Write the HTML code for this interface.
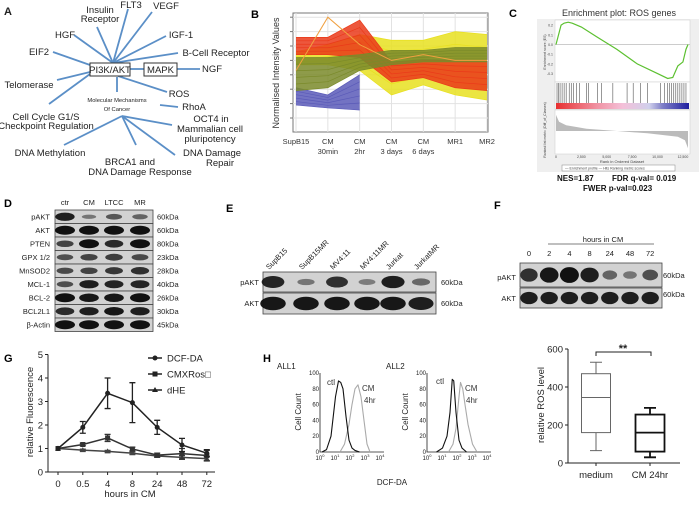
<!DOCTYPE html>
<html><head><meta charset="utf-8"><style>
html,body{margin:0;padding:0;background:#fff;}
svg{display:block;font-family:"Liberation Sans",sans-serif;}
</style></head><body>
<svg id="fig" width="700" height="510" viewBox="0 0 700 510" xmlns="http://www.w3.org/2000/svg">
<g id="panelA" font-size="9.5" fill="#222" text-anchor="middle">
<text x="4" y="15" font-size="11" font-weight="bold" text-anchor="start">A</text>
<g stroke="#5b8fc7" stroke-width="1.8">
<line x1="113" y1="63" x2="128" y2="9"/><line x1="113" y1="63" x2="97" y2="27"/><line x1="113" y1="63" x2="152" y2="12"/>
<line x1="113" y1="63" x2="74" y2="35"/><line x1="113" y1="63" x2="166" y2="36"/><line x1="113" y1="63" x2="178" y2="53"/>
<line x1="90" y1="65" x2="53" y2="52"/><line x1="90" y1="72" x2="57" y2="80"/><line x1="90" y1="74" x2="49" y2="104"/>
<line x1="130" y1="69" x2="144" y2="69"/><line x1="177" y1="69" x2="200" y2="69"/><line x1="118" y1="76" x2="167" y2="92"/>
<line x1="117" y1="77" x2="117" y2="92"/><line x1="160" y1="105" x2="178" y2="107"/>
<line x1="122" y1="116" x2="172" y2="125"/><line x1="122" y1="116" x2="64" y2="145"/><line x1="122" y1="116" x2="136" y2="145"/><line x1="122" y1="116" x2="175" y2="155"/>
</g>
<rect x="90" y="63" width="40" height="13" fill="#fff" stroke="#333"/>
<text x="110" y="73">PI3K/AKT</text>
<rect x="144" y="63" width="33" height="13" fill="#fff" stroke="#333"/>
<text x="160.5" y="73">MAPK</text>
<text x="131" y="8">FLT3</text>
<text x="100" y="13">Insulin<tspan x="100" dy="9">Receptor</tspan></text>
<text x="166" y="9">VEGF</text>
<text x="65" y="38">HGF</text>
<text x="181" y="38">IGF-1</text>
<text x="216" y="56">B-Cell Receptor</text>
<text x="39" y="55">EIF2</text>
<text x="212" y="72">NGF</text>
<text x="29" y="88">Telomerase</text>
<text x="179" y="97">ROS</text>
<text x="117" y="102" font-size="5.8">Molecular Mechanisms<tspan x="117" dy="9">Of Cancer</tspan></text>
<text x="194" y="110">RhoA</text>
<text x="46" y="120">Cell Cycle G1/S<tspan x="46" dy="9">Checkpoint Regulation</tspan></text>
<text x="211" y="122">OCT4 in<tspan x="210" dy="10">Mammalian cell</tspan><tspan x="210" dy="10">pluripotency</tspan></text>
<text x="50" y="156">DNA Methylation</text>
<text x="130" y="165">BRCA1 and<tspan x="140" dy="10">DNA Damage Response</tspan></text>
<text x="212" y="156">DNA Damage<tspan x="220" dy="10">Repair</tspan></text>
</g>
<g id="panelB"></g>
<g id="panelC"></g>
<g id="panelD"></g>
<g id="panelE"></g>
<g id="panelF"></g>
<g id="panelG"></g>
<g id="panelH"></g>
</svg>
<script>
// ---------- Panel B data ----------
var bCategories = ["SupB15","CM 30min","CM 2hr","CM 3 days","CM 6 days","MR1","MR2"];
var bYellowUpper = [4.6,5.1,5.8,5.4,5.4,6.0,5.8];
var bYellowLower = [3.7,3.7,3.3,1.6,2.3,1.6,1.25];
var bRedUpper = [5.6,5.6,6.8,3.9,4.0,4.0,4.0];
var bRedLower = [4.4,4.4,4.2,2.5,2.8,2.1,1.9];
var bGreenUpper = [4.2,4.2,4.4,4.7,4.7,4.9,4.9];
var bGreenLower = [1.9,2.1,3.3,3.7,3.9,3.9,3.9];
var bBlueUpper = [2.1,1.6,3.0];
var bBlueLower = [0.9,0.7,0.55];
var bOrange = [3.3,7.0,5.1,4.0,4.4,4.0,4.0];
// ---------- Panel C data ----------
var esRanks = [0,200,500,800,1200,1600,2500,4000,6000,8000,10000,11000,11500,12000,12500,12800,13000];
var esValues = [0,0.08,0.2,0.22,0.23,0.22,0.18,0.08,-0.05,-0.2,-0.3,-0.35,-0.34,-0.22,-0.18,-0.05,0];
var hitRanks = [100,250,400,600,800,1000,1300,1500,1700,2000,2300,3000,3200,4100,4500,5600,7000,7600,8300,9000,10300,10700,11000,11200,11400,11600,11800,12000,12200,12400,12600,12800];
var metricRanks = [0,300,1000,3000,6000,9000,12000,12700,13000];
var metricValues = [7,4,2.5,1,0,-1,-2.5,-4,-7.5];
var esTicks = [0.2,0.1,0.0,-0.1,-0.2,-0.3];
var rankTicks = [0,2500,5000,7500,10000,12500];
// ---------- Panel D data ----------
var dLanes = ["ctr","CM","LTCC","MR"];
var dProteins = ["pAKT","AKT","PTEN","GPX 1/2","MnSOD2","MCL-1","BCL-2","BCL2L1","β-Actin"];
var dSizes = ["60kDa","60kDa","80kDa","23kDa","28kDa","40kDa","26kDa","30kDa","45kDa"];
var dIntensity = [[0.9,0.2,0.45,0.35],[1,1,1,1],[0.6,1,0.8,1],[0.5,0.6,0.65,0.55],[0.55,0.6,0.7,0.75],[0.5,0.9,0.85,0.85],[1,0.95,0.95,1],[0.8,0.9,0.95,0.9],[1,1,1,1]];
// ---------- Panel E data ----------
var eLanes = ["SupB15","SupB15MR","MV4:11","MV4:11MR","Jurkat","JurkatMR"];
var ePAKT = [0.85,0.2,0.75,0.15,0.9,0.3];
var eAKT = [0.95,0.95,0.95,0.95,0.95,0.9];
// ---------- Panel F data ----------
var fLanes = ["0","2","4","8","24","48","72"];
var fPAKT = [0.75,0.95,1,0.9,0.35,0.2,0.5];
var fAKT = [0.9,0.9,0.9,0.9,0.9,0.9,0.9];
// ---------- Panel G data ----------
var gCategories = ["0","0.5","4","8","24","48","72"];
var gDCF = [1,1.9,3.35,2.95,1.9,1.15,0.8];
var gDCFerr = [0,0.25,0.65,0.85,0.3,0.28,0.15];
var gCMX = [1,1.17,1.45,0.98,0.72,0.78,0.7];
var gCMXerr = [0,0.05,0.15,0.08,0.08,0.22,0.22];
var gDHE = [1,0.93,0.88,0.8,0.68,0.62,0.57];
var gDHEerr = [0,0.04,0.04,0.05,0.05,0.08,0.1];
var gTicks = [0,1,2,3,4,5];
// ---------- Panel H data ----------
var h1BlackX = [0,0.3,0.6,0.9,1.1,1.25,1.4,1.6,1.8,2.0,2.2,2.5];
var h1BlackY = [0,3,20,70,90,88,80,45,15,5,2,0];
var h1GrayX = [1.2,1.5,1.8,2.0,2.2,2.4,2.6,2.8,3.0,3.2];
var h1GrayY = [0,10,35,60,80,85,70,40,10,0];
var h2BlackX = [0.5,0.9,1.2,1.4,1.55,1.65,1.8,2.0,2.2,2.5];
var h2BlackY = [0,5,20,50,92,90,50,15,5,0];
var h2GrayX = [1.3,1.6,1.8,2.0,2.1,2.25,2.4,2.6,2.9,3.2];
var h2GrayY = [0,10,30,70,88,80,60,35,10,0];
var histTicks = [0,20,40,60,80,100];
var boxGroups = ["medium","CM 24hr"];
var boxMin = [65,30];
var boxQ1 = [160,60];
var boxMedian = [345,160];
var boxQ3 = [470,255];
var boxMax = [530,290];
var boxTicks = [0,200,400,600];

var NS="http://www.w3.org/2000/svg";
function mk(tag, attrs, parent){var e=document.createElementNS(NS,tag);for(var k in attrs)e.setAttribute(k,attrs[k]);parent.appendChild(e);return e;}
function txt(s, attrs, parent){var e=mk("text",attrs,parent);e.textContent=s;return e;}

// ===== Panel B =====
(function(){
var g=document.getElementById("panelB");
var X0=296,X1=487,Yt=13,Yb=132;
function xB(i){return X0+i*(X1-X0)/(bCategories.length-1);}
function yB(v){return 118-v*14.4;}
var t=txt("B",{x:251,y:18,"font-size":11,"font-weight":"bold"},g);


var bg=mk("rect",{x:293,y:Yt,width:X1+1-293,height:Yb-Yt,fill:"#fff",stroke:"#777","stroke-width":1},g);


for(var v=0;v<=7;v++){
 var gl=mk("line",{x1:293,x2:X1+1,y1:yB(v),y2:yB(v),stroke:"#e2e2e2"},g);
 
 
 var tk=mk("line",{x1:290,x2:293,y1:yB(v),y2:yB(v),stroke:"#777"},g);
 
 
}
for(var i=0;i<bCategories.length;i++){
 var vl=mk("line",{x1:xB(i),x2:xB(i),y1:Yt,y2:Yb,stroke:"#e2e2e2"},g);
 
 
 var parts=bCategories[i].split(" ");
 var lt=txt(parts[0],{x:xB(i),y:144,"font-size":7.5,"text-anchor":"middle",fill:"#333"},g);
 
 
 if(parts.length>1){var l2=txt(parts.slice(1).join(" "),{x:xB(i),y:154,"font-size":7.5,"text-anchor":"middle",fill:"#333"},g);
 
 }
}
function band(up,lo,color,name){
 var d="";for(var i=0;i<up.length;i++)d+=(i?"L":"M")+xB(i)+","+yB(up[i]);
 for(var j=lo.length-1;j>=0;j--)d+="L"+xB(j)+","+yB(lo[j]);
 var p=mk("path",{d:d+"Z",fill:color,"fill-opacity":0.85},g);
 
 
 for(var k=0;k<6;k++){var f=k/5,ld="";
  for(var i=0;i<up.length;i++)ld+=(i?"L":"M")+xB(i)+","+yB(up[i]*(1-f)+lo[i]*f);
  var ln=mk("path",{d:ld,fill:"none",stroke:color,"stroke-width":0.7},g);
  
  }
}
band(bYellowUpper,bYellowLower,"#e8e020","series-yellow-band");
band(bBlueUpper,bBlueLower,"#5a5ab8","series-blue-band");
band(bRedUpper,bRedLower,"#ea3a1a","series-red-band");
band(bGreenUpper,bGreenLower,"#7a8a2a","series-green-band");
var od="";for(var i=0;i<bOrange.length;i++)od+=(i?"L":"M")+xB(i)+","+yB(bOrange[i]);
var ol=mk("path",{d:od,fill:"none",stroke:"#f0a040","stroke-width":1},g);


var yl=txt("Normalised Intensity Values",{x:0,y:0,"font-size":9,"text-anchor":"middle",fill:"#333",transform:"translate(279,73) rotate(-90)"},g);


})();

// ===== Panel C =====
(function(){
var g=document.getElementById("panelC");
function xC(r){return 556+r/13000*132;}
function yC(es){return 44.5-es*97;}
function yR(m){return 131-m*2.3;}
var t=txt("C",{x:509,y:17,"font-size":11,"font-weight":"bold"},g);


var tt=txt("Enrichment plot: ROS genes",{x:619,y:16,"font-size":9,"text-anchor":"middle",fill:"#333"},g);


var fr=mk("rect",{x:537,y:19,width:162,height:153,fill:"#efefef"},g);


var p1=mk("rect",{x:555,y:20,width:135,height:62,fill:"#fff",stroke:"#ccc","stroke-width":0.5},g);


var p2=mk("rect",{x:555,y:82,width:135,height:27,fill:"#fff",stroke:"#ccc","stroke-width":0.5},g);


var p3=mk("rect",{x:555,y:110,width:135,height:44,fill:"#fff",stroke:"#ccc","stroke-width":0.5},g);


var z=mk("line",{x1:555,x2:690,y1:yC(0),y2:yC(0),stroke:"#999","stroke-width":0.5},g);


esTicks.forEach(function(v){var k=txt(v.toFixed(1),{x:553,y:yC(v)+1.5,"font-size":3.5,"text-anchor":"end",fill:"#444"},g);
 
 });
var d="";for(var i=0;i<esRanks.length;i++)d+=(i?"L":"M")+xC(esRanks[i])+","+yC(esValues[i]);
var es=mk("path",{d:d,fill:"none",stroke:"#5cc030","stroke-width":1.2},g);


hitRanks.forEach(function(r){var h=mk("line",{x1:xC(r),x2:xC(r),y1:83,y2:103,stroke:"#333","stroke-width":0.5},g);
 
 });
var defs=mk("defs",{},g);
var lg=mk("linearGradient",{id:"cbar",x1:0,x2:1,y1:0,y2:0},defs);
[["0","#e83030"],["0.3","#f090a0"],["0.5","#f4c0d8"],["0.7","#d0d0ec"],["0.8","#8080c8"],["1","#2020a0"]].forEach(function(s){mk("stop",{offset:s[0],"stop-color":s[1]},lg);});
var cb=mk("rect",{x:556,y:103,width:133,height:6,fill:"url(#cbar)"},g);


var md="M"+xC(0)+","+yR(0);for(var i=0;i<metricRanks.length;i++)md+="L"+xC(metricRanks[i])+","+yR(metricValues[i]);md+="L"+xC(13000)+","+yR(0)+"Z";
var ma=mk("path",{d:md,fill:"#bbb"},g);


rankTicks.forEach(function(r){var k=txt(r.toLocaleString("en-US"),{x:xC(r),y:158,"font-size":3.5,"text-anchor":"middle",fill:"#444"},g);
 
 });
var xl=txt("Rank in Ordered Dataset",{x:622,y:163,"font-size":4,"text-anchor":"middle",fill:"#444"},g);


var yl=txt("Enrichment score (ES)",{x:0,y:0,"font-size":3.5,"text-anchor":"middle",fill:"#444",transform:"translate(546,52) rotate(-90)"},g);


var yl2=txt("Ranked list metric (Diff_of_Classes)",{x:0,y:0,"font-size":3.5,"text-anchor":"middle",fill:"#444",transform:"translate(546,130) rotate(-90)"},g);


var lb=mk("rect",{x:562,y:165,width:113,height:6,fill:"#fff",stroke:"#888","stroke-width":0.5},g);


var le=txt("— Enrichment profile   — Hits      Ranking metric scores",{x:565,y:169.5,"font-size":3.5,fill:"#444"},g);


var s1=txt("NES=1.87",{x:557,y:181,"font-size":8,"font-weight":"bold",fill:"#111"},g);


var s2=txt("FDR q-val= 0.019",{x:612,y:181,"font-size":8,"font-weight":"bold",fill:"#111"},g);


var s3=txt("FWER  p-val=0.023",{x:583,y:191,"font-size":8,"font-weight":"bold",fill:"#111"},g);


})();

// ===== Blot helper =====
function blotRow(g,x,y,w,h,lanesX,vals,laneW,name){
 var r=mk("rect",{x:x,y:y,width:w,height:h,fill:"#d2d2d2",stroke:"#444","stroke-width":0.8},g);
 
 
 for(var i=0;i<vals.length;i++){var v=vals[i];
  var b=mk("ellipse",{cx:lanesX[i],cy:y+h/2,rx:laneW/2*(0.65+0.35*v),ry:h*0.33*(0.35+0.65*v),fill:"#111","fill-opacity":0.35+0.65*v},g);
  
  }
}
// ===== Panel D =====
(function(){
var g=document.getElementById("panelD");
var t=txt("D",{x:4,y:207,"font-size":11,"font-weight":"bold"},g);


var lx=[65,89,114,140], rh=13.5;
dLanes.forEach(function(l,i){var k=txt(l,{x:lx[i],y:205,"font-size":7.5,"text-anchor":"middle",fill:"#222"},g);
 
 });
dProteins.forEach(function(p,j){var y=210+j*rh;
 blotRow(g,55,y,98,rh,lx,dIntensity[j],20,'blot-d');
 var a=txt(p,{x:50,y:y+9.5,"font-size":7.5,"text-anchor":"end",fill:"#222"},g);
 
 
 var s=txt(dSizes[j],{x:157,y:y+9.5,"font-size":7.5,fill:"#222"},g);
 
 });
})();
// ===== Panel E =====
(function(){
var g=document.getElementById("panelE");
var t=txt("E",{x:226,y:212,"font-size":11,"font-weight":"bold"},g);


var lx=[273,306,337,367,393,421];
eLanes.forEach(function(l,i){var k=txt(l,{x:0,y:0,"font-size":7.5,fill:"#222",transform:"translate("+(lx[i]-4)+",270) rotate(-45)"},g);
 
 });
blotRow(g,263,272,173,20,lx,ePAKT,24,'blot-e-pakt');
blotRow(g,263,293,173,21,lx,eAKT,26,'blot-e-akt');
[["pAKT",285],["AKT",306]].forEach(function(a){var k=txt(a[0],{x:259,y:a[1],"font-size":7.5,"text-anchor":"end",fill:"#222"},g);
 
 
 var s=txt("60kDa",{x:441,y:a[1],"font-size":7.5,fill:"#222"},g);
 
 });
})();
// ===== Panel F =====
(function(){
var g=document.getElementById("panelF");
var t=txt("F",{x:494,y:209,"font-size":11,"font-weight":"bold"},g);


var lx=[];for(var i=0;i<fLanes.length;i++)lx.push(529+i*20.2);
var h=txt("hours in CM",{x:603,y:242,"font-size":7.5,"text-anchor":"middle",fill:"#222"},g);


var ln=mk("line",{x1:548,x2:654,y1:244,y2:244,stroke:"#555","stroke-width":0.8},g);


fLanes.forEach(function(l,i){var k=txt(l,{x:lx[i],y:256,"font-size":7.5,"text-anchor":"middle",fill:"#222"},g);
 
 });
blotRow(g,520,263,142,24,lx,fPAKT,19,'blot-f-pakt');
blotRow(g,520,288,142,20,lx,fAKT,18,'blot-f-akt');
[["pAKT",280],["AKT",301]].forEach(function(a){var k=txt(a[0],{x:516,y:a[1],"font-size":7.5,"text-anchor":"end",fill:"#222"},g);
 
 });
[["60kDa",278],["60kDa",297]].forEach(function(a){var s=txt(a[0],{x:663,y:a[1],"font-size":7.5,fill:"#222"},g);
 
 });
})();

// ===== Panel G =====
(function(){
var g=document.getElementById("panelG");
function xG(i){return 58+i*24.8;}
function yG(v){return 472-v*23.5;}
var t=txt("G",{x:4,y:362,"font-size":11,"font-weight":"bold"},g);


var ya=mk("line",{x1:48,x2:48,y1:yG(5),y2:yG(0),stroke:"#222","stroke-width":1},g);


var xa=mk("line",{x1:48,x2:215,y1:yG(0),y2:yG(0),stroke:"#222","stroke-width":1},g);


gTicks.forEach(function(v){var k=mk("line",{x1:45,x2:48,y1:yG(v),y2:yG(v),stroke:"#222"},g);
 
 
 var l=txt(String(v),{x:43,y:yG(v)+3.5,"font-size":9.5,"text-anchor":"end",fill:"#222"},g);
 
 });
gCategories.forEach(function(c,i){var k=mk("line",{x1:xG(i),x2:xG(i),y1:yG(0),y2:yG(0)+3,stroke:"#222"},g);
 
 
 var l=txt(c,{x:xG(i),y:487,"font-size":9.5,"text-anchor":"middle",fill:"#222"},g);
 
 });
var xt=txt("hours in CM",{x:130,y:497,"font-size":9.5,"text-anchor":"middle",fill:"#222"},g);


var yt=txt("relative Fluorescence",{x:0,y:0,"font-size":9.5,"text-anchor":"middle",fill:"#222",transform:"translate(33,412) rotate(-90)"},g);


function series(vals,errs,shape,name,color){
 var d="";for(var i=0;i<vals.length;i++)d+=(i?"L":"M")+xG(i)+","+yG(vals[i]);
 var p=mk("path",{d:d,fill:"none",stroke:color,"stroke-width":1.5},g);
 
 
 for(var i=0;i<vals.length;i++){var x=xG(i),y=yG(vals[i]);
  if(errs[i]>0){var e=mk("path",{d:"M"+x+","+yG(vals[i]-errs[i])+"V"+yG(vals[i]+errs[i])+"M"+(x-3)+","+yG(vals[i]+errs[i])+"h6M"+(x-3)+","+yG(vals[i]-errs[i])+"h6",stroke:color,"stroke-width":1.3,fill:"none"},g);
   
   }
  var m=marker(x,y,shape,color);
  
  }
}
function marker(x,y,shape,color){
 if(shape=="c")return mk("circle",{cx:x,cy:y,r:2.5,fill:color},g);
 if(shape=="s")return mk("rect",{x:x-2.5,y:y-2.5,width:5,height:5,fill:color},g);
 return mk("path",{d:"M"+x+","+(y-3)+"L"+(x+3)+","+(y+2)+"L"+(x-3)+","+(y+2)+"Z",fill:color},g);
}
series(gDHE,gDHEerr,"t","dhe","#444");
series(gCMX,gCMXerr,"s","cmxros","#333");
series(gDCF,gDCFerr,"c","dcf-da","#222");
[["DCF-DA","c",361],["CMXRos\u25A1","s",377],["dHE","t",393]].forEach(function(a){
 var l=mk("line",{x1:148,x2:162,y1:a[2]-3,y2:a[2]-3,stroke:"#222","stroke-width":1.5},g);
 
 
 var m=marker(155,a[2]-3,a[1],"#222");
 
 
 var tx=txt(a[0],{x:167,y:a[2]+0.5,"font-size":9.5,fill:"#222"},g);
 
 });
})();

// ===== Panel H =====
(function(){
var g=document.getElementById("panelH");
var t=txt("H",{x:263,y:362,"font-size":11,"font-weight":"bold"},g);


function hist(ox,label,lx,bx,by,gx,gy,idx){
 function xH(l){return ox+2+l*15;}
 function yH(c){return 452-c*0.79;}
 var a=mk("path",{d:"M"+ox+","+yH(100)+"V"+yH(0)+"H"+(ox+64),fill:"none",stroke:"#222","stroke-width":0.8},g);
 
 
 histTicks.forEach(function(v){var k=txt(String(v),{x:ox-1,y:yH(v)+2,"font-size":6,"text-anchor":"end",fill:"#222"},g);
  
  });
 for(var d=0;d<=4;d++){var k=txt("10",{x:xH(d)-2,y:460,"font-size":6,"text-anchor":"middle",fill:"#222"},g);
  var s=mk("tspan",{dy:-3,"font-size":4},k);s.textContent=String(d);
  
  }
 var yl=txt("Cell Count",{x:0,y:0,"font-size":8,"text-anchor":"middle",fill:"#222",transform:"translate("+(ox-19)+",412) rotate(-90)"},g);
 
 
 var lb=txt(label,{x:lx,y:369,"font-size":8,fill:"#222"},g);
 
 
 function curve(xs,ys,col,name){var dd="";for(var i=0;i<xs.length;i++)dd+=(i?"L":"M")+xH(xs[i])+","+yH(ys[i]);
  var p=mk("path",{d:dd,fill:"none",stroke:col,"stroke-width":1.1,"stroke-linejoin":"round"},g);
  
  }
 curve(gx,gy,"#aaa","cm-4hr-curve");
 curve(bx,by,"#111","ctl-curve");
}
hist(320,"ALL1",277,h1BlackX,h1BlackY,h1GrayX,h1GrayY,1);
hist(427,"ALL2",386,h2BlackX,h2BlackY,h2GrayX,h2GrayY,2);
[["ctl",327,385],["CM",362,391],["4hr",364,403],["ctl",436,384],["CM",465,391],["4hr",466,403]].forEach(function(a){
 var k=txt(a[0],{x:a[1],y:a[2],"font-size":8,fill:"#333"},g);
 
 });
var dx=txt("DCF-DA",{x:392,y:485,"font-size":8,"text-anchor":"middle",fill:"#222"},g);


// box plot
function yBx(v){return 463-v*0.19;}
var ax=mk("path",{d:"M568,"+yBx(600)+"V"+yBx(0)+"H680",fill:"none",stroke:"#222","stroke-width":1},g);


boxTicks.forEach(function(v){var k=mk("line",{x1:565,x2:568,y1:yBx(v),y2:yBx(v),stroke:"#222"},g);
 
 
 var l=txt(String(v),{x:563,y:yBx(v)+3.5,"font-size":9.5,"text-anchor":"end",fill:"#222"},g);
 
 });
var yt=txt("relative ROS level",{x:0,y:0,"font-size":9.5,"text-anchor":"middle",fill:"#222",transform:"translate(544,405) rotate(-90)"},g);


var cx=[596,650];
boxGroups.forEach(function(n,i){var c=cx[i],sw=i?1.8:1,col=i?"#111":"#666";
 var w=mk("path",{d:"M"+c+","+yBx(boxMax[i])+"V"+yBx(boxQ3[i])+"M"+c+","+yBx(boxQ1[i])+"V"+yBx(boxMin[i])+"M"+(c-6)+","+yBx(boxMax[i])+"h12M"+(c-6)+","+yBx(boxMin[i])+"h12",stroke:col,"stroke-width":sw,fill:"none"},g);
 
 
 var b=mk("rect",{x:c-14.5,y:yBx(boxQ3[i]),width:29,height:yBx(boxQ1[i])-yBx(boxQ3[i]),fill:"#fff",stroke:col,"stroke-width":sw},g);
 
 
 var m=mk("line",{x1:c-14.5,x2:c+14.5,y1:yBx(boxMedian[i]),y2:yBx(boxMedian[i]),stroke:col,"stroke-width":sw},g);
 
 
 var k=mk("line",{x1:c,x2:c,y1:463,y2:466,stroke:"#222"},g);
 
 
 var l=txt(n,{x:c,y:478,"font-size":9.5,"text-anchor":"middle",fill:"#222"},g);
 
 });
var br=mk("path",{d:"M596,356V352H651V356",fill:"none",stroke:"#222","stroke-width":1},g);


var st=txt("**",{x:623,y:352,"font-size":11,"font-weight":"bold","text-anchor":"middle",fill:"#222"},g);


})();
</script>
</body></html>
